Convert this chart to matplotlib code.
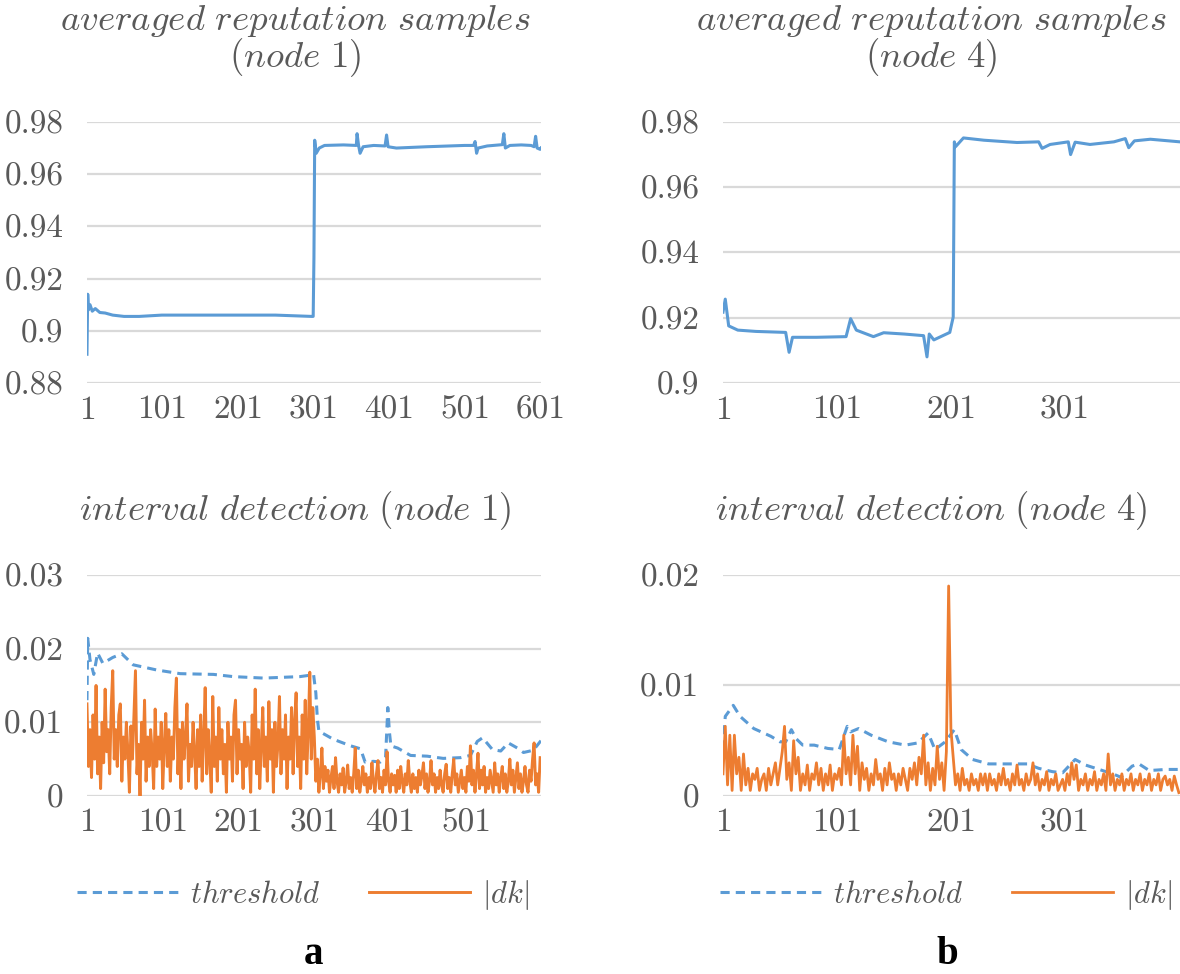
import numpy as np
import matplotlib
matplotlib.use("Agg")
import matplotlib.pyplot as plt

plt.rcParams['mathtext.fontset'] = 'cm'
plt.rcParams['axes.formatter.use_mathtext'] = True

# ---- data ----
# averaged reputation samples, node 1 (sample index, value)
rep1_x = [1, 2, 3, 5, 8, 12, 18, 25, 35, 50, 70, 100, 150, 200, 250, 298, 300,
          301, 302, 304, 308, 315, 340, 357, 358, 360, 362, 366, 380, 395, 397,
          399, 410, 450, 500, 512, 514, 516, 518, 530, 550, 552, 554, 560, 575,
          588, 592, 594, 596, 600, 601]
rep1_y = [0.891, 0.914, 0.908, 0.910, 0.9075, 0.9085, 0.907, 0.9068, 0.906,
          0.9055, 0.9055, 0.906, 0.906, 0.906, 0.906, 0.9055, 0.9055, 0.928,
          0.973, 0.968, 0.970, 0.971, 0.9712, 0.971, 0.9755, 0.971, 0.968,
          0.9705, 0.971, 0.9708, 0.975, 0.9705, 0.970, 0.9705, 0.971, 0.971,
          0.9725, 0.968, 0.970, 0.9708, 0.9713, 0.9755, 0.970, 0.971, 0.9712,
          0.971, 0.9705, 0.9745, 0.970, 0.9695, 0.970]

# averaged reputation samples, node 4
rep4_x = [1, 3, 6, 14, 30, 56, 59, 62, 83, 109, 113, 118, 133, 142, 160, 177,
          180, 182, 186, 200, 203, 204, 205, 212, 230, 259, 278, 281, 288, 304,
          306, 310, 323, 344, 354, 357, 362, 376, 402]
rep4_y = [0.9217, 0.9257, 0.9175, 0.9162, 0.9158, 0.9155, 0.9094, 0.914, 0.914,
          0.9142, 0.9197, 0.9162, 0.9142, 0.9154, 0.915, 0.9145, 0.908, 0.915,
          0.9132, 0.9155, 0.9202, 0.9739, 0.9724, 0.9751, 0.9744, 0.9737,
          0.9739, 0.9719, 0.9731, 0.9739, 0.970, 0.9738, 0.9731, 0.9739,
          0.9749, 0.9721, 0.9742, 0.9747, 0.9739]

# interval detection, node 1: threshold (x, value)
thr1_x = [1, 2, 5, 10, 15, 22, 35, 47, 62, 93, 124, 168, 194, 234, 282, 296,
          300, 303, 305, 307, 326, 349, 362, 366, 368, 379, 388, 395, 398, 400,
          402, 411, 428, 450, 471, 494, 507, 516, 523, 536, 547, 557, 569, 577,
          590, 600]
thr1_y = [0.013, 0.0214, 0.0185, 0.0165, 0.0194, 0.018, 0.0188, 0.0193, 0.0178,
          0.0171, 0.0166, 0.0165, 0.0162, 0.016, 0.0162, 0.0164, 0.0165, 0.014,
          0.0105, 0.0088, 0.0077, 0.0068, 0.0064, 0.0052, 0.0046, 0.0047,
          0.0046, 0.0052, 0.012, 0.0088, 0.0068, 0.0065, 0.0055, 0.0054,
          0.0051, 0.0052, 0.0055, 0.0074, 0.0079, 0.0063, 0.0061, 0.0072,
          0.0065, 0.0059, 0.0062, 0.0075]

# |dk| node 1, every 2nd sample (x 1, 3, 5, ...), in units of 0.001
dk1 = [12.5, 4, 9, 2.5, 11, 5, 15, 3, 8, 1,
       10, 4.5, 14.5, 6, 9, 3, 12, 17, 5, 9,
       4, 11, 12.5, 2, 8, 5, 10, 6, 0.5, 9.5,
       5, 11, 17, 3, 7, 0, 10, 5, 13, 2,
       8, 4, 9, 6, 1, 11.8, 4, 8, 5, 10,
       1, 7, 11.2, 4, 9, 2, 8, 5, 12, 16,
       3, 9, 1, 10, 5, 8, 12.5, 2, 7, 4,
       10, 6, 1, 9, 4, 11, 2, 8, 14.7, 3,
       9, 5, 0.5, 13.5, 4, 8, 2, 12, 5, 9,
       3, 7, 0.5, 10, 5, 8, 2, 11, 13, 3,
       9, 5, 7, 1, 10, 4, 8, 6, 0.5, 11,
       5, 14.5, 3, 9, 1, 7, 12, 4, 8, 2,
       12.8, 5, 9, 0.5, 10, 4, 7, 13.5, 3, 9,
       5, 11, 1, 8, 5, 12, 3, 10, 14, 4,
       8, 1, 11, 5, 13, 3, 9, 16.8, 5, 12,
       8, 2, 5, 0.5, 3, 6.5, 1, 4, 2, 3.5, 0.5, 2.5, 4, 1, 5.2, 2, 0.5, 3, 1.5,
       3.8, 0.5, 2, 4.2, 1, 2.5, 0.5, 3, 6.5, 1, 3.5, 0.5, 2, 4, 1.5, 3, 0.5,
       2.5, 1, 4.5, 2, 0.5, 3, 4.8, 1, 2.5, 0.5, 3.5, 1.5, 6, 2, 0.5, 3, 1.5,
       2.8, 0.5, 3.5, 1, 4, 2, 0.5, 3, 1.5, 4.8, 2, 0.5, 3, 1, 2.5, 0.5, 3.5,
       1.5, 2.8, 4.5, 1, 3, 0.5, 2, 4.8, 1.5, 3, 0.5, 2.5, 1, 3.5, 1.5, 0.5, 3,
       4.3, 1, 2.5, 0.5, 3, 5, 1.5, 3, 0.5, 2, 3.5, 1, 2.5, 0.5, 4, 2, 6.8, 1.5,
       3.5, 0.5, 3, 5.8, 1, 3.5, 1.5, 4, 0.5, 2.5, 1, 3.5, 2, 0.5, 4.5, 1.5, 3,
       0.5, 2.5, 4, 1, 3, 0.5, 2, 5, 1.5, 3.5, 0.5, 2.5, 4.5, 1, 3, 0.5, 2, 4,
       1.5, 0.5, 3.5, 2, 5, 7.2, 1.5, 3, 0.5, 5.2]

# interval detection, node 4: threshold
thr4_x = [1, 3, 10, 16, 28, 43, 51, 56, 61, 65, 71, 81, 93, 103, 110, 113, 120,
          131, 146, 161, 172, 181, 187, 196, 204, 210, 220, 234, 252, 268, 278,
          290, 299, 310, 319, 331, 343, 350, 360, 366, 375, 390, 400]
thr4_y = [0.0042, 0.0072, 0.0082, 0.0072, 0.0061, 0.0054, 0.0049, 0.0049,
          0.006, 0.0052, 0.0046, 0.0046, 0.0043, 0.0042, 0.0063, 0.0058,
          0.0061, 0.0055, 0.0049, 0.0046, 0.0048, 0.0057, 0.0042, 0.0049,
          0.006, 0.0042, 0.0033, 0.0029, 0.0029, 0.0029, 0.0025, 0.0022,
          0.0021, 0.0033, 0.0028, 0.0024, 0.002, 0.0017, 0.0027, 0.0029,
          0.0023, 0.0024, 0.0024]

# |dk| node 4, every 2nd sample, in units of 0.001
dk4 = [2, 6.3, 1, 5.5, 0.5, 5.5, 2, 3.5, 0.5, 3.8, 1, 2.5, 0.5, 2, 1.5, 2.5,
       0.5, 1.5, 2, 0.5, 2.5, 1, 2, 3, 1, 2.5, 4, 6.3, 1.5, 3, 0.5, 5, 2, 3.5,
       0.5, 2, 1, 2.8, 0.5, 2, 1.5, 3, 1, 2.5, 0.5, 2, 1, 2.8, 0.5, 2, 1.5, 2.5,
       1, 5.5, 2, 3.5, 1, 5.5, 2, 4.5, 0.5, 3, 1.5, 2.5, 0.5, 2, 1, 3.3, 1.5, 2,
       0.5, 2.5, 1, 3, 1.5, 2, 0.5, 2, 1, 2.5, 1.5, 0.5, 2.5, 1.5, 3, 1, 3.5, 2,
       5.5, 1, 3, 0.5, 2.5, 1, 4.5, 1.5, 3, 0.5, 4, 19, 6, 3.5, 1, 2, 0.5, 2.5,
       1, 1.5, 0.5, 2, 1, 1.5, 0.5, 2, 1, 2, 0.5, 2, 1, 1.5, 0.5, 2, 1, 2.5, 1,
       1.5, 0.5, 2, 1, 2.8, 1, 1.5, 0.5, 2, 1, 1.5, 3, 1, 2, 0.5, 1.5, 1, 2.2,
       0.5, 1.5, 1, 2, 0.5, 1, 1.5, 0.5, 2, 1, 3, 1.5, 2.8, 0.5, 1.5, 1, 2, 0.5,
       1.5, 1, 2.2, 0.5, 1.5, 1, 2, 0.5, 3.8, 1, 2, 0.5, 1.5, 1, 2, 0.5, 1.5, 1,
       2, 0.5, 1.5, 1, 2, 0.5, 1.5, 1, 2, 0.5, 1.5, 1, 2, 0.5, 1.5, 1.8, 1, 1.5,
       0.5, 1.8, 1, 0.3]

xt1 = [1, 101, 201, 301, 401, 501, 601]
xt1b = [1, 101, 201, 301, 401, 501]
xt4 = [1, 101, 201, 301]

BLUE = '#5B9BD5'
ORANGE = '#ED7D31'
GRID = '#D9D9D9'
TXT = '#595959'

fig = plt.figure(figsize=(11.8, 9.74), dpi=100)


def style(ax, xlim, ylim, yticks, ylabels, xticks):
    ax.set_xlim(*xlim)
    ax.set_ylim(*ylim)
    ax.set_yticks(yticks)
    ax.set_yticklabels(ylabels)
    ax.set_xticks(xticks)
    ax.set_xticklabels([str(t) for t in xticks])
    for s in ax.spines.values():
        s.set_visible(False)
    ax.grid(axis='y', color=GRID, lw=1.6)
    ax.set_axisbelow(True)
    ax.tick_params(axis='both', length=0, labelsize=24, colors=TXT)
    ax.tick_params(axis='y', pad=17)
    ax.tick_params(axis='x', pad=9)
    for lab in ax.get_xticklabels() + ax.get_yticklabels():
        lab.set_family('cmr10')


ax1 = fig.add_axes([0.0737, 0.6068, 0.3847, 0.268])
ax1.plot(rep1_x, rep1_y, color=BLUE, lw=2.2)
style(ax1, (1, 601), (0.88, 0.98), [0.88, 0.9, 0.92, 0.94, 0.96, 0.98],
      ['0.88', '0.9', '0.92', '0.94', '0.96', '0.98'], xt1)

ax2 = fig.add_axes([0.6127, 0.6068, 0.3873, 0.268])
ax2.plot(rep4_x, rep4_y, color=BLUE, lw=2.2)
style(ax2, (1, 402), (0.9, 0.98), [0.9, 0.92, 0.94, 0.96, 0.98],
      ['0.9', '0.92', '0.94', '0.96', '0.98'], xt4)

ax3 = fig.add_axes([0.0737, 0.1828, 0.3847, 0.2269])
ax3.plot(thr1_x, thr1_y, color=BLUE, lw=2.2, ls=(0, (3, 2)), label=r'$\mathit{threshold}$')
ax3.plot(np.arange(1, 2 * len(dk1), 2), np.array(dk1) / 1000, color=ORANGE, lw=2.1,
         label=r'$|\mathit{dk}|$')
style(ax3, (1, 600), (0, 0.03), [0, 0.01, 0.02, 0.03], ['0', '0.01', '0.02', '0.03'], xt1b)

ax4 = fig.add_axes([0.6127, 0.1828, 0.3873, 0.2269])
ax4.plot(thr4_x, thr4_y, color=BLUE, lw=2.2, ls=(0, (3, 2)), label=r'$\mathit{threshold}$')
ax4.plot(np.arange(1, 2 * len(dk4), 2), np.array(dk4) / 1000, color=ORANGE, lw=2.0,
         label=r'$|\mathit{dk}|$')
style(ax4, (1, 402), (0, 0.02), [0, 0.01, 0.02], ['0', '0.01', '0.02'], xt4)

# titles
tkw = dict(ha='center', va='center', fontsize=26.5, color=TXT)
fig.text(0.25, 0.979, r'$\mathit{averaged\ reputation\ samples}$', **tkw)
fig.text(0.25, 0.941, r'$\mathit{(node\ }\mathrm{1}\mathit{)}$', **tkw)
fig.text(0.789, 0.979, r'$\mathit{averaged\ reputation\ samples}$', **tkw)
fig.text(0.789, 0.941, r'$\mathit{(node\ }\mathrm{4}\mathit{)}$', **tkw)
fig.text(0.25, 0.4754, r'$\mathit{interval\ detection\ (node\ }\mathrm{1}\mathit{)}$', **tkw)
fig.text(0.789, 0.4754, r'$\mathit{interval\ detection\ (node\ }\mathrm{4}\mathit{)}$', **tkw)

for ax, cx in [(ax3, 0.257), (ax4, 0.802)]:
    leg = ax.legend(loc='center', bbox_to_anchor=(cx, 0.081), bbox_transform=fig.transFigure,
                    ncol=2, frameon=False, fontsize=22, handlelength=3.3,
                    handletextpad=0.4, columnspacing=1.6)
    for t in leg.get_texts():
        t.set_color(TXT)

fig.text(0.266, 0.02, 'a', ha='center', va='center', fontsize=28, fontweight='bold',
         family='Liberation Serif')
fig.text(0.803, 0.02, 'b', ha='center', va='center', fontsize=28, fontweight='bold',
         family='Liberation Serif')

fig.savefig('out.png', dpi=100)
